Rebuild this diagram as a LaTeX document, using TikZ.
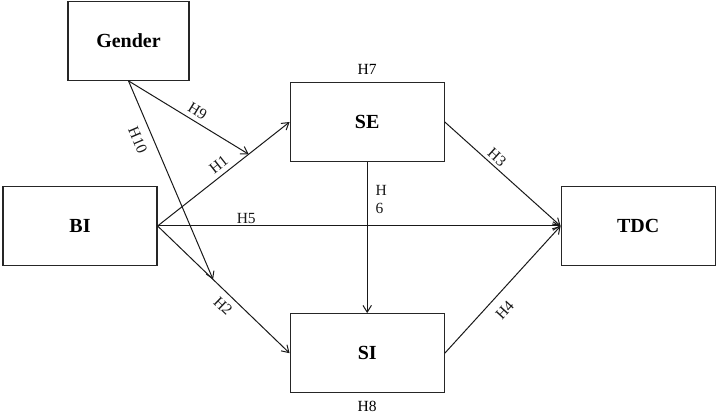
\documentclass[tikz,border=0pt]{standalone}
\usepackage{fontspec}
\setmainfont{Liberation Serif}
\usetikzlibrary{positioning,arrows.meta}

\begin{document}
\begin{tikzpicture}[
  box/.style={draw=black!85,line width=1.2pt,minimum height=79pt,minimum width=154pt,
              align=center,font=\fontsize{20}{24}\selectfont\bfseries},
  lbl/.style={inner sep=2pt,font=\fontsize{15.5}{18}\selectfont},
  slbl/.style={lbl,sloped,inner sep=5pt},
  arr/.style={-{Straight Barb[angle=64:8pt]},black!90,line width=1pt}]
\useasboundingbox (0,0) rectangle (717pt,414pt);
\node[box] (bi) at (80pt,188pt) {BI};
\node[box,right=132pt of bi.east,yshift=104pt] (se) {SE};
\node[box,below=151pt of se] (si) {SI};
\node[box,right=403pt of bi] (tdc) {TDC};
\node[box,minimum width=121pt,above=105pt of bi,xshift=48.5pt] (gender) {Gender};
\node[lbl,above=5pt of se.north] (h7) {H7};
\node[lbl,below=6pt of si.south] (h8) {H8};
% meeting points of the moderator arrows
\path (bi.east) -- (se.west) coordinate[pos=0.69] (m9);
\path (bi.east) -- (si.west) coordinate[pos=0.42] (m10);
\draw[arr] (bi.east) -- node[slbl,above,pos=0.51,inner sep=4.5pt] (h1) {H1} (se.west);
\draw[arr] (bi.east) -- node[slbl,below,pos=0.56,inner sep=6.5pt] (h2) {H2} (si.west);
\draw[arr] (bi.east) -- node[lbl,above,pos=0.22] (h5) {H5} (tdc.west);
\draw[arr] (se.east) -- node[slbl,above,pos=0.40,inner sep=3pt] (h3) {H3} (tdc.west);
\draw[arr] (si.east) -- node[slbl,below,pos=0.42,inner sep=9.5pt] (h4) {H4} (tdc.west);
\draw[arr] (se.south) -- node[lbl,right,align=left,inner sep=8pt,pos=0.25] (h6) {H\\6} (si.north);
\draw[arr] (gender.south) -- node[slbl,above,pos=0.53,inner sep=4.5pt] (h9) {H9} (m9);
\draw[arr] (gender.south) -- node[slbl,below,pos=0.27,inner sep=9pt] (h10) {H10} (m10);
\end{tikzpicture}
\end{document}
